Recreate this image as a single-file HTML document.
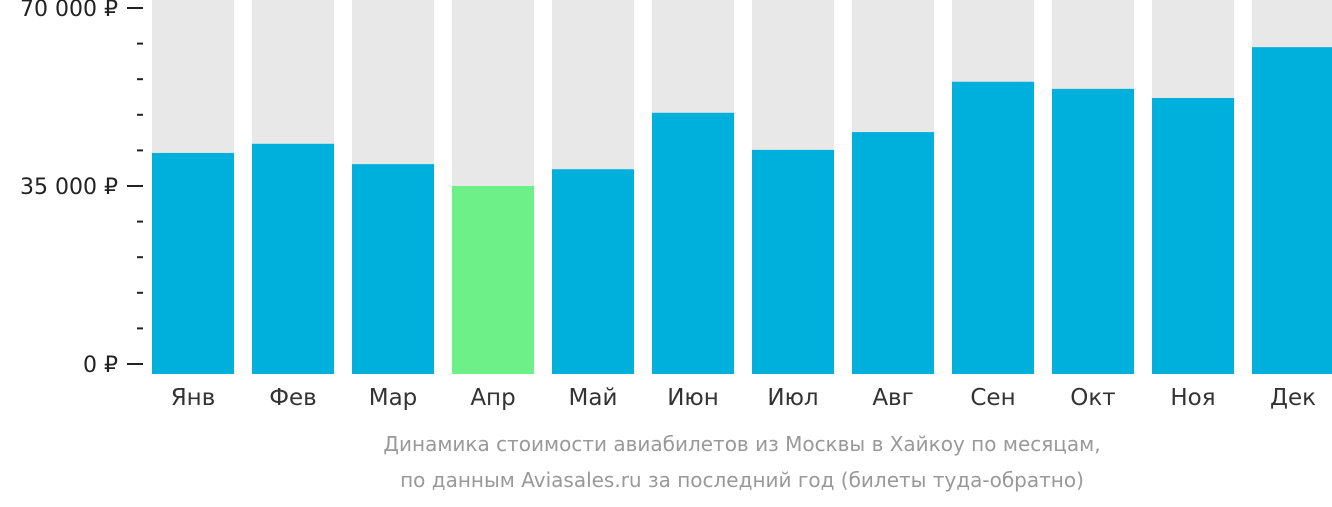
<!DOCTYPE html>
<html><head><meta charset="utf-8"><style>
body{margin:0;background:#fff;font-family:"Liberation Sans","DejaVu Sans",sans-serif;}
svg text{font-family:"DejaVu Sans","Liberation Sans",sans-serif;}
</style></head><body>
<svg id="c" width="1332" height="502"></svg>
<script>
const months=["Янв","Фев","Мар","Апр","Май","Июн","Июл","Авг","Сен","Окт","Ноя","Дек"];
const prices=[41500,43300,39300,35000,38300,49400,42100,45600,55500,54100,52300,62300];
const highlight=[false,false,false,true,false,false,false,false,false,false,false,false];
const tickLabels=["0 ₽","35 000 ₽","70 000 ₽"];
const tickValues=[0,35000,70000];
const NS="http://www.w3.org/2000/svg";
const svg=document.getElementById('c');
const y0=364,pxPer=178/35000;
function y(v){return y0-v*pxPer;}
function x(i){return 152+i*100;}
function mk(t,a,p){const e=document.createElementNS(NS,t);for(const k in a)e.setAttribute(k,a[k]);(p||svg).appendChild(e);return e;}
months.forEach((m,i)=>{
  const bg=mk('rect',{x:x(i),y:0,width:82,height:374,fill:'#e8e8e8'});
  
  
  const b=mk('rect',{x:x(i),y:y(prices[i]),width:82,height:374-y(prices[i]),fill:highlight[i]?'#6cf087':'#00b0dc'});
  
  
  const t=mk('text',{x:x(i)+41,y:405,'text-anchor':'middle','font-size':23,fill:'#333'});
  t.textContent=m;
  
  
});
for(let v=7000;v<70000;v+=7000){
  if(v%35000===0)continue;
  const l=mk('line',{x1:137,x2:143,y1:y(v),y2:y(v),stroke:'#222','stroke-width':2});
  
  
}
tickValues.forEach((v,i)=>{
  const l=mk('line',{x1:127,x2:143,y1:y(v),y2:y(v),stroke:'#222','stroke-width':2});
  
  
  const t=mk('text',{x:118,y:y(v)+8,'text-anchor':'end','font-size':22,fill:'#222'});
  t.textContent=tickLabels[i];
  
  
});
const c1=mk('text',{x:742,y:451,'text-anchor':'middle','font-size':20,fill:'#999'});
c1.textContent="Динамика стоимости авиабилетов из Москвы в Хайкоу по месяцам,";


const c2=mk('text',{x:742,y:487,'text-anchor':'middle','font-size':20,fill:'#999'});
c2.textContent="по данным Aviasales.ru за последний год (билеты туда-обратно)";


</script>
</body></html>
